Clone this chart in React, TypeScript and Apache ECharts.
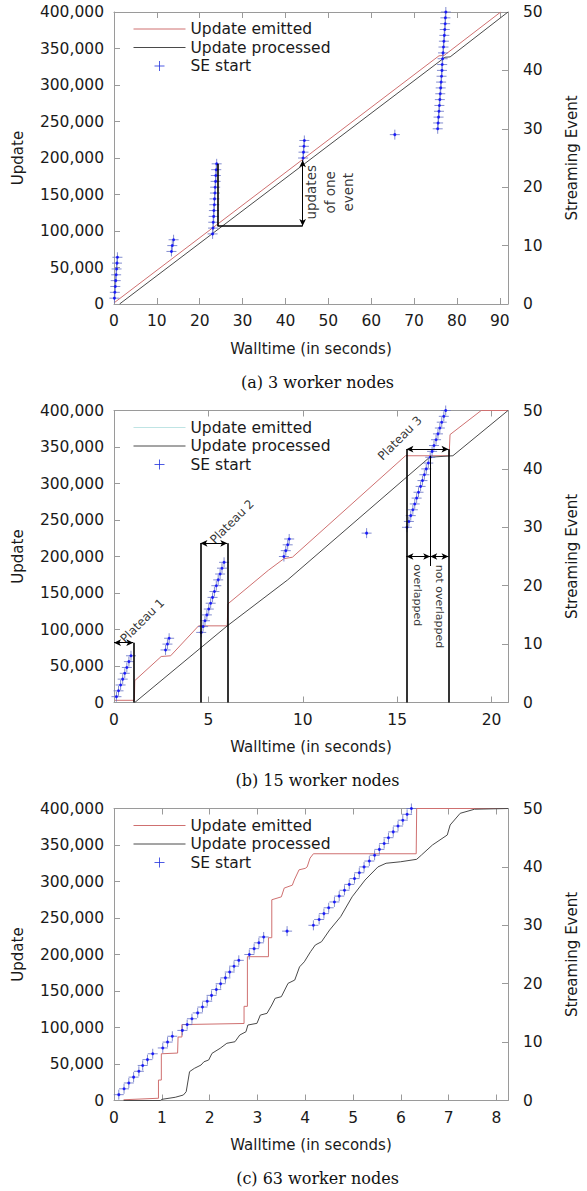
import React, { useEffect, useRef } from 'react';
import * as echarts from 'echarts';

// ---------- data ----------
const seEvents = [1,2,3,4,5,6,7,8,9,10,11,12,13,14,15,16,17,18,19,20,21,22,23,24,25,26,27,28,29,30,31,32,33,34,35,36,37,38,39,40,41,42,43,44,45,46,47,48,49,50];

const seTimesA = [0.1,0.2,0.3,0.4,0.5,0.6,0.7,0.8, 13.4,13.6,13.9,
  23.0,23.1,23.15,23.25,23.3,23.4,23.45,23.55,23.6,23.7,23.75,23.85,23.95,
  44.1,44.2,44.3,44.4, 65.5,
  75.5,75.6,75.7,75.8,75.9,76.0,76.1,76.2,76.3,76.4,76.5,76.55,76.65,76.75,76.85,76.95,77.05,77.15,77.25,77.3,77.4];
const seTimesB = [0.13,0.24,0.35,0.46,0.57,0.68,0.79,0.9, 2.73,2.83,2.92,
  4.62,4.72,4.82,4.92,5.02,5.12,5.22,5.32,5.42,5.52,5.62,5.72,5.83,
  9.0,9.1,9.2,9.28, 13.38,
  15.52,15.62,15.72,15.83,15.93,16.03,16.13,16.24,16.34,16.44,16.54,16.65,16.75,16.85,16.95,17.06,17.16,17.26,17.36,17.47,17.57];
const seTimesC = [0.10,0.21,0.31,0.41,0.52,0.60,0.70,0.81, 1.02,1.12,1.22,
  1.43,1.53,1.63,1.75,1.85,1.95,2.04,2.14,2.23,2.33,2.42,2.51,2.61,
  2.83,2.93,3.03,3.13, 3.62,
  4.17,4.29,4.39,4.49,4.61,4.71,4.82,4.92,5.03,5.13,5.23,5.34,5.45,5.55,5.65,5.74,5.84,5.94,6.04,6.13,6.22];

const emittedA = [[0,1500],[75.8,340000],[77.0,340500],[90.2,400000]];
const processedA = [[1.3,0],[77.2,338000],[78.4,338500],[91.9,400000]];

const emittedB = [[0.05,3000],[1.08,3000],[1.1,30000],[2.5,63000],[3.0,64000],[4.48,105000],[6.0,105000],[6.03,135000],[8.17,181000],[9.0,197000],[9.45,199000],[15.44,338000],[17.75,338000],[17.8,367000],[19.45,400000],[20.87,400000]];
const processedB = [[1.1,0],[6.0,105000],[9.2,168000],[16.72,336000],[17.95,338000],[20.87,400000]];

const emittedC = [[0.2,1000],[0.9,3000],[0.93,3000],[0.93,28000],[0.99,28000],[0.99,64000],[1.33,65000],[1.34,87000],[1.42,87000],[1.42,104000],[2.72,105500],[2.72,129000],[2.79,129000],[2.79,197000],[3.23,197000],[3.23,223000],[3.30,223000],[3.30,275000],[3.50,279000],[3.56,291000],[3.73,295000],[3.77,302000],[3.87,316000],[4.0,318000],[4.04,320000],[4.1,332000],[4.17,338000],[6.32,338000],[6.33,400000],[8.24,400000]];
const processedC = [[0.2,0],[0.97,0],[1.0,1600],[1.28,4400],[1.45,7500],[1.51,12000],[1.58,39500],[1.68,44000],[1.82,48600],[1.88,53000],[1.98,55500],[2.05,64600],[2.22,71500],[2.36,78400],[2.53,80500],[2.63,89700],[2.76,94200],[2.8,103400],[2.99,105700],[3.06,117000],[3.2,119400],[3.3,130800],[3.37,140000],[3.5,142200],[3.64,160500],[3.78,165000],[3.88,183000],[3.98,190000],[4.11,203800],[4.21,213000],[4.34,217500],[4.51,233600],[4.74,251800],[4.98,279000],[5.25,302000],[5.52,320000],[5.69,325000],[5.99,327000],[6.33,330400],[6.43,336300],[6.66,350000],[6.97,363700],[7.03,377400],[7.24,393400],[7.54,399000],[8.24,400000]];

// annotation segments (data coordinates)
const barsA = [[[24.15,107000],[24.15,192000]], [[24.15,107000],[44,107000]]];
const thinA: number[][][] = [];
const arrowsA = [[[44,107000],[44,197000]]];
const barsB = [[[1.02,0],[1.02,82000]], [[4.58,0],[4.58,218000]], [[6.0,0],[6.0,218000]], [[15.49,0],[15.49,347000]], [[17.72,0],[17.72,347000]]];
const thinB = [[[16.75,187000],[16.75,338000]]];
const arrowsB = [[[0,82000],[1.02,82000]], [[4.58,218000],[6.0,218000]], [[15.49,347000],[17.72,347000]], [[15.49,200000],[16.75,200000]], [[16.75,200000],[17.72,200000]]];

const textsA = [{ text: 'updates\nof one\nevent', at: [50.3,153000], kind: 'v' }];
const textsB = [
  { text: 'Plateau 1', at: [1.5,112000], kind: 'd' },
  { text: 'Plateau 2', at: [6.25,247700], kind: 'd' },
  { text: 'Plateau 3', at: [15.14,362000], kind: 'd' },
  { text: 'overlapped', at: [16.1,147000], kind: 'r' },
  { text: 'not overlapped', at: [17.23,131500], kind: 'r' },
];

const captions = ['(a) 3 worker nodes', '(b) 15 worker nodes', '(c) 63 worker nodes'];
const xMaxes = [91.9, 20.87, 8.24];
const xIntervals = [10, 5, 1];
const yLeftMax = 400000, yLeftInterval = 50000;
const yRightMax = 50, yRightInterval = 10;

const panels = [
  { se: seTimesA, em: emittedA, pr: processedA, bars: barsA, thin: thinA, arrows: arrowsA, texts: textsA },
  { se: seTimesB, em: emittedB, pr: processedB, bars: barsB, thin: thinB, arrows: arrowsB, texts: textsB },
  { se: seTimesC, em: emittedC, pr: processedC, bars: [], thin: [], arrows: [], texts: [] as any[] },
];

// ---------- layout / style ----------
const TOPS = [12, 410.5, 808.5];
const GRID_H = 292;
const FONT = 'DejaVu Sans';
const AXIS_C = '#9a9a9a';
const TXT_C = '#1a1a1a';
const RED = '#cf7070';
const GRAY = '#4a4a4a';
const CROSS = 'path://M0,5L10,5M5,0L5,10';
const CROSS_C = '#6470c4';

const fmt = (v: number) => String(Math.round(v)).replace(/\B(?=(\d{3})+(?!\d))/g, ',');

function buildOption() {
  const grid: any[] = [], xAxis: any[] = [], yAxis: any[] = [], series: any[] = [], legend: any[] = [], graphic: any[] = [];
  panels.forEach((pd, p) => {
    const top = TOPS[p];
    grid.push({ left: 114, top, width: 407, height: GRID_H });
    const axLine = { show: true, onZero: false, lineStyle: { color: AXIS_C, width: 1 } };
    const tick = { show: true, inside: true, length: 6, lineStyle: { color: AXIS_C } };
    xAxis.push({
      type: 'value', gridIndex: p, position: 'bottom', min: 0, max: xMaxes[p], interval: xIntervals[p],
      name: 'Walltime (in seconds)', nameLocation: 'middle', nameGap: 37,
      nameTextStyle: { fontFamily: FONT, fontSize: 15, color: TXT_C },
      axisLine: axLine, axisTick: tick, splitLine: { show: false },
      axisLabel: { fontFamily: FONT, fontSize: 15.5, color: TXT_C, margin: 9, showMaxLabel: false },
    });
    xAxis.push({
      type: 'value', gridIndex: p, position: 'top', min: 0, max: xMaxes[p], interval: xIntervals[p],
      axisLine: axLine, axisTick: tick, splitLine: { show: false }, axisLabel: { show: false },
    });
    yAxis.push({
      type: 'value', gridIndex: p, position: 'left', min: 0, max: yLeftMax, interval: yLeftInterval,
      name: 'Update', nameLocation: 'middle', nameGap: 89, nameRotate: 90,
      nameTextStyle: { fontFamily: FONT, fontSize: 15, color: TXT_C },
      axisLine: axLine, axisTick: tick, splitLine: { show: false },
      axisLabel: { fontFamily: FONT, fontSize: 15.5, color: TXT_C, margin: 10, formatter: fmt },
    });
    yAxis.push({
      type: 'value', gridIndex: p, position: 'right', min: 0, max: yRightMax, interval: yRightInterval,
      name: 'Streaming Event', nameLocation: 'middle', nameGap: 56, nameRotate: 90,
      nameTextStyle: { fontFamily: FONT, fontSize: 15, color: TXT_C },
      axisLine: axLine, axisTick: tick, splitLine: { show: false },
      axisLabel: { fontFamily: FONT, fontSize: 15.5, color: TXT_C, margin: 15 },
    });
    const xi = p * 2, yl = p * 2, yr = p * 2 + 1;

    const ml: any[] = [];
    pd.bars.forEach((s: any) => ml.push([
      { coord: s[0], symbol: 'none', lineStyle: { color: '#000', width: 1.6, type: 'solid' } },
      { coord: s[1], symbol: 'none' },
    ]));
    pd.thin.forEach((s: any) => ml.push([
      { coord: s[0], symbol: 'none', lineStyle: { color: '#000', width: 1, type: 'solid' } },
      { coord: s[1], symbol: 'none' },
    ]));
    pd.arrows.forEach((s: any) => ml.push([
      { coord: s[0], symbol: 'arrow', symbolSize: [5, 7], lineStyle: { color: '#000', width: 1, type: 'solid' } },
      { coord: s[1], symbol: 'arrow', symbolSize: [5, 7] },
    ]));

    series.push({
      type: 'line', name: 'Update emitted', xAxisIndex: xi, yAxisIndex: yl, data: pd.em,
      symbol: 'none', showSymbol: false, lineStyle: { color: RED, width: 1 }, itemStyle: { color: RED }, z: 3, silent: true,
    });
    series.push({
      type: 'line', name: 'Update processed', xAxisIndex: xi, yAxisIndex: yl, data: pd.pr,
      symbol: 'none', showSymbol: false, lineStyle: { color: GRAY, width: 1 }, itemStyle: { color: GRAY }, z: 3, silent: true,
      markLine: { silent: true, symbol: ['none', 'none'], label: { show: false }, animation: false, data: ml, z: 6 },
    });
    series.push({
      type: 'scatter', name: 'SE start', xAxisIndex: xi, yAxisIndex: yr,
      data: pd.se.map((t, i) => [t, seEvents[i]]),
      symbol: CROSS, symbolSize: 10,
      itemStyle: { color: 'rgba(0,0,0,0)', borderColor: CROSS_C, borderWidth: 1 }, z: 4, silent: true,
    });
    series.push({
      type: 'scatter', name: 'SE start center', xAxisIndex: xi, yAxisIndex: yr,
      data: pd.se.map((t, i) => [t, seEvents[i]]),
      symbol: 'circle', symbolSize: 3, itemStyle: { color: '#0000ff' }, z: 5, silent: true,
    });
    if (pd.texts.length) {
      series.push({
        type: 'scatter', name: 'notes ' + p, xAxisIndex: xi, yAxisIndex: yl, silent: true, z: 7,
        symbol: 'circle', symbolSize: 1, itemStyle: { color: 'rgba(0,0,0,0)' },
        data: pd.texts.map((t: any) => ({
          value: t.at,
          label: {
            show: true, position: 'inside', formatter: t.text, color: '#000', fontFamily: FONT,
            fontSize: t.kind === 'v' ? 13.5 : t.kind === 'd' ? 12 : 11,
            lineHeight: t.kind === 'v' ? 18.5 : 13,
            rotate: t.kind === 'v' ? 90 : t.kind === 'd' ? 45 : -90,
            align: 'center', verticalAlign: 'middle',
          },
        })),
      });
    }
    const emC = p === 1 ? '#bfe4e4' : RED;
    legend.push({
      left: 133, top: top + 8, orient: 'vertical', padding: 0, itemGap: 0.5, itemWidth: 52, itemHeight: 10,
      selectedMode: false,
      textStyle: { fontFamily: FONT, fontSize: 15.5, color: TXT_C, lineHeight: 18 },
      data: [
        { name: 'Update emitted', lineStyle: { color: emC, width: 1 }, itemStyle: { color: emC, opacity: 0, borderWidth: 0 } },
        { name: 'Update processed', lineStyle: { color: GRAY, width: 1 }, itemStyle: { color: GRAY, opacity: 0, borderWidth: 0 } },
        { name: 'SE start', icon: CROSS, itemStyle: { color: 'rgba(0,0,0,0)', borderColor: '#2233dd', borderWidth: 1 } },
      ],
    });
    graphic.push({
      type: 'text', x: 317.5, y: top + 370,
      style: { text: captions[p], font: '16px "DejaVu Serif"', fill: '#111', textAlign: 'center', textVerticalAlign: 'middle' },
    });
  });
  return { animation: false, backgroundColor: '#fff', grid, xAxis, yAxis, series, legend, graphic };
}

export default function App() {
  const ref = useRef<HTMLDivElement>(null);
  useEffect(() => {
    if (!ref.current) return;
    const chart = echarts.init(ref.current, undefined, { renderer: 'svg' });
    chart.setOption(buildOption() as any);
    return () => chart.dispose();
  }, []);
  return <div ref={ref} style={{ position: 'absolute', left: 0, top: 0, width: 587, height: 1191, background: '#fff' }} />;
}
